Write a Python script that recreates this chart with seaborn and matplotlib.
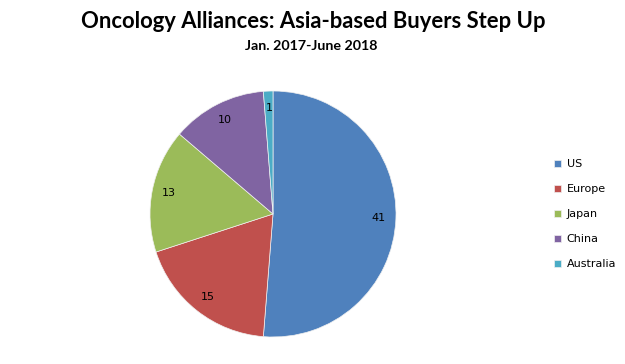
import matplotlib
matplotlib.use("Agg")
import matplotlib.pyplot as plt
import seaborn as sns

regions = ["US", "Europe", "Japan", "China", "Australia"]
deals = [41, 15, 13, 10, 1]
colors = ["#4F81BD", "#C0504D", "#9BBB59", "#8064A2", "#4BACC6"]

sns.set_theme(style="white")
plt.rcParams['font.family'] = ['DejaVu Sans']
plt.rcParams['text.color'] = 'black'
palette = sns.color_palette(colors)

fig = plt.figure(figsize=(6.25, 3.64), dpi=100)
ax = fig.add_axes([(273 - 123) / 625, (364 - 214 - 123) / 364, 246 / 625, 246 / 364])

wedges, texts, autotexts = ax.pie(
    deals, colors=palette, startangle=90, counterclock=False,
    autopct=lambda p: f"{round(p * sum(deals) / 100):d}", pctdistance=0.86,
    wedgeprops=dict(edgecolor="#f0f0f0", linewidth=0.5),
    textprops=dict(fontsize=8, color="black"))
ax.set_xlim(-1, 1)
ax.set_ylim(-1, 1)
ax.set_aspect("equal")

fig.text(313 / 625, 1 - 21 / 364, "Oncology Alliances: Asia-based Buyers Step Up",
         ha="center", va="center", fontsize=15.8, fontweight="bold", color="black",
         family=["Lato", "DejaVu Sans"])
fig.text(311 / 625, 1 - 46 / 364, "Jan. 2017-June 2018",
         ha="center", va="center", fontsize=10.3, fontweight="bold", color="black",
         family=["Lato", "DejaVu Sans"])

leg = fig.legend(wedges, regions, loc="center left", bbox_to_anchor=(550 / 625, 1 - 214 / 364),
                 frameon=False, fontsize=8, handlelength=0.6, handleheight=0.6,
                 handletextpad=0.5, labelspacing=1.35, borderaxespad=0, labelcolor="black")

fig.savefig("out.png", dpi=100)
